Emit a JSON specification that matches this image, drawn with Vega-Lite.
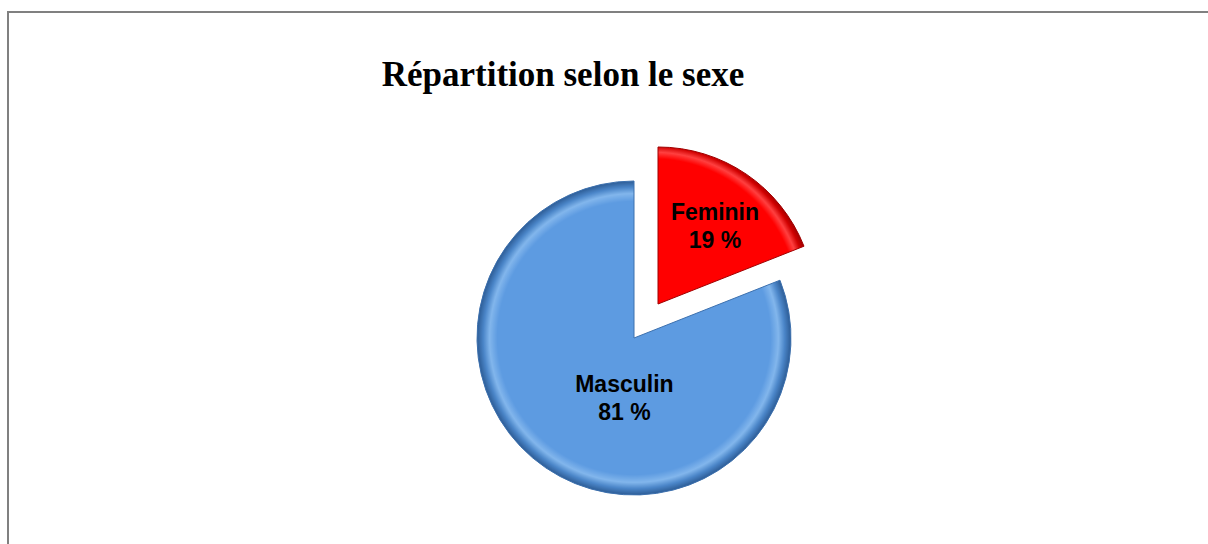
{
  "$schema": "https://vega.github.io/schema/vega-lite/v6.json",
  "width": 1252,
  "height": 652,
  "autosize": {"type": "none"},
  "padding": {"left": 8, "top": 12, "right": 0, "bottom": 0},
  "background": "white",
  "view": {"stroke": "#808080", "strokeWidth": 2, "fill": "white"},
  "config": {"view": {"stroke": "#808080", "strokeWidth": 2}},
  "title": {
    "text": "Répartition selon le sexe",
    "font": "Liberation Serif",
    "fontSize": 35,
    "fontWeight": "bold",
    "color": "#000000",
    "anchor": "middle",
    "frame": "group",
    "dx": -71,
    "offset": -109,
    "baseline": "alphabetic"
  },
  "data": {
    "values": [
      {"sexe": "Feminin", "pct": 19, "label": "Feminin\n19 %"},
      {"sexe": "Masculin", "pct": 81, "label": "Masculin\n81 %"}
    ]
  },
  "transform": [
    {"stack": "pct", "groupby": [], "sort": [{"field": "sexe", "order": "ascending"}], "as": ["t0", "t1"]}
  ],
  "layer": [
    {
      "transform": [{"filter": "datum.sexe === 'Masculin'"}],
      "mark": {
        "type": "arc",
        "outerRadius": 157,
        "stroke": "#3C70AE",
        "strokeWidth": 1,
        "fill": {
          "gradient": "radial",
          "x1": 0.5, "y1": 0.5, "r1": 0,
          "x2": 0.5, "y2": 0.5, "r2": 0.5,
          "stops": [
            {"offset": 0, "color": "#5D9BE1"},
            {"offset": 0.87, "color": "#5D9BE1"},
            {"offset": 0.92, "color": "#82B6EC"},
            {"offset": 0.96, "color": "#4A85C8"},
            {"offset": 1, "color": "#2D5C95"}
          ]
        }
      },
      "encoding": {
        "theta": {"field": "t0", "type": "quantitative", "scale": {"domain": [0, 100]}},
        "theta2": {"field": "t1"}
      }
    },
    {
      "transform": [{"filter": "datum.sexe === 'Feminin'"}],
      "mark": {
        "type": "arc",
        "outerRadius": 157,
        "xOffset": 24,
        "yOffset": -34,
        "stroke": "#A00000",
        "strokeWidth": 1,
        "fill": {
          "gradient": "radial",
          "x1": 0, "y1": 1, "r1": 0,
          "x2": 0, "y2": 1, "r2": 1.04,
          "stops": [
            {"offset": 0, "color": "#FF0000"},
            {"offset": 0.89, "color": "#FF0000"},
            {"offset": 0.93, "color": "#FF4040"},
            {"offset": 0.965, "color": "#D00000"},
            {"offset": 1, "color": "#940000"}
          ]
        }
      },
      "encoding": {
        "theta": {"field": "t0", "type": "quantitative", "scale": {"domain": [0, 100]}},
        "theta2": {"field": "t1"}
      }
    },
    {
      "mark": {
        "type": "text",
        "radius": 74,
        "dx": 32,
        "dy": -14,
        "font": "Liberation Sans",
        "fontSize": 23,
        "fontWeight": "bold",
        "color": "#000000",
        "lineBreak": "\n",
        "lineHeight": 28,
        "align": "center",
        "baseline": "middle"
      },
      "encoding": {
        "theta": {"field": "pct", "type": "quantitative", "stack": true, "scale": {"domain": [0, 100]}},
        "order": {"field": "sexe", "sort": "ascending"},
        "text": {"condition": {"test": "datum.sexe === 'Masculin'", "field": "label"}, "value": ""}
      }
    },
    {
      "mark": {
        "type": "text",
        "radius": 96,
        "xOffset": 24,
        "yOffset": -34,
        "dx": 3,
        "dy": -12,
        "font": "Liberation Sans",
        "fontSize": 23,
        "fontWeight": "bold",
        "color": "#000000",
        "lineBreak": "\n",
        "lineHeight": 28,
        "align": "center",
        "baseline": "middle"
      },
      "encoding": {
        "theta": {"field": "pct", "type": "quantitative", "stack": true, "scale": {"domain": [0, 100]}},
        "order": {"field": "sexe", "sort": "ascending"},
        "text": {"condition": {"test": "datum.sexe === 'Feminin'", "field": "label"}, "value": ""}
      }
    }
  ]
}
